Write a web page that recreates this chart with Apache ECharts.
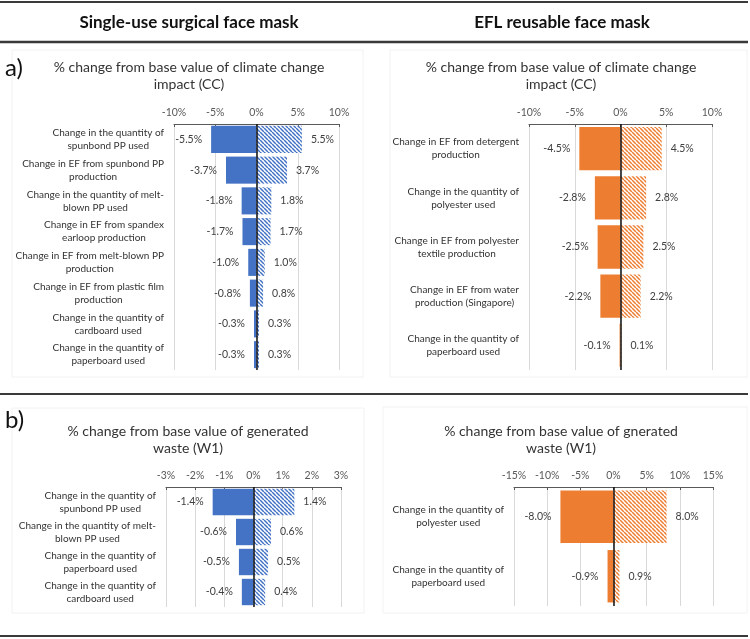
<!DOCTYPE html>
<html><head><meta charset="utf-8">
<script src="https://cdn.jsdelivr.net/npm/echarts@6/dist/echarts.min.js"></script>
<style>html,body{margin:0;padding:0;background:#fff}#c{width:750px;height:639px}</style>
</head><body><div id="c"></div><script>
// ---------- data ----------
const ccSingleCats = [
  "Change in the quantity of\nspunbond PP used",
  "Change in EF from spunbond PP\nproduction",
  "Change in the quantity of melt-\nblown PP used",
  "Change in EF from spandex\nearloop production",
  "Change in EF from melt-blown PP\nproduction",
  "Change in EF from plastic film\nproduction",
  "Change in the quantity of\ncardboard used",
  "Change in the quantity of\npaperboard used"
];
const ccSingleLow  = [-5.5, -3.7, -1.8, -1.7, -1.0, -0.8, -0.3, -0.3];
const ccSingleHigh = [5.5, 3.7, 1.8, 1.7, 1.0, 0.8, 0.3, 0.3];

const ccReuseCats = [
  "Change in EF from detergent\nproduction",
  "Change in the quantity of\npolyester used",
  "Change in EF from polyester\ntextile production",
  "Change in EF from water\nproduction (Singapore)",
  "Change in the quantity of\npaperboard used"
];
const ccReuseLow  = [-4.5, -2.8, -2.5, -2.2, -0.1];
const ccReuseHigh = [4.5, 2.8, 2.5, 2.2, 0.1];

const wSingleCats = [
  "Change in the quantity of\nspunbond PP used",
  "Change in the quantity of melt-\nblown PP used",
  "Change in the quantity of\npaperboard used",
  "Change in the quantity of\ncardboard used"
];
const wSingleLow  = [-1.4, -0.6, -0.5, -0.4];
const wSingleHigh = [1.4, 0.6, 0.5, 0.4];

const wReuseCats = [
  "Change in the quantity of\npolyester used",
  "Change in the quantity of\npaperboard used"
];
const wReuseLow  = [-8.0, -0.9];
const wReuseHigh = [8.0, 0.9];

// axis ranges [min, max, interval]
const axisCCSingle = [-10, 10, 5];
const axisCCReuse  = [-10, 10, 5];
const axisWSingle  = [-3, 3, 1];
const axisWReuse   = [-15, 15, 5];

const panelHeaders = ["Single-use surgical face mask", "EFL reusable face mask"];
const panelTags = ["a)", "b)"];
const chartTitles = [
  "% change from base value of climate change\nimpact (CC)",
  "% change from base value of climate change\nimpact (CC)",
  "% change from base value of generated\nwaste (W1)",
  "% change from base value of gnerated\nwaste (W1)"
];

// ---------- styling ----------
const FF = "Lato, 'Open Sans', sans-serif";
const BLUE = "#4472C4", ORANGE = "#ED7D31";
function hatch(color){
  const s = 4;
  const c = document.createElement('canvas'); c.width = s; c.height = s;
  const g = c.getContext('2d');
  g.fillStyle = '#fff'; g.fillRect(0,0,s,s);
  g.strokeStyle = color; g.lineWidth = 1.5;
  for (let k=-1;k<=1;k++){ g.beginPath(); g.moveTo(k*s,0); g.lineTo(k*s+s,s); g.stroke(); }
  return {image:c, repeat:'repeat'};
}

const grids = [
  {left:174, top:124, width:165, height:246},
  {left:529, top:124, width:183, height:246},
  {left:166, top:487, width:175, height:120},
  {left:514, top:487, width:199, height:119}
];
const panels = [
  {cats:ccSingleCats, low:ccSingleLow, high:ccSingleHigh, ax:axisCCSingle, color:BLUE},
  {cats:ccReuseCats, low:ccReuseLow, high:ccReuseHigh, ax:axisCCReuse, color:ORANGE},
  {cats:wSingleCats, low:wSingleLow, high:wSingleHigh, ax:axisWSingle, color:BLUE},
  {cats:wReuseCats, low:wReuseLow, high:wReuseHigh, ax:axisWReuse, color:ORANGE}
];

const xAxis = [], yAxis = [], series = [];
panels.forEach((p, i) => {
  xAxis.push({
    gridIndex:i, type:'value', position:'top', min:p.ax[0], max:p.ax[1], interval:p.ax[2],
    axisLine:{show:true, lineStyle:{color:'#595959', width:1}},
    axisTick:{show:true, inside:true, length:3, lineStyle:{color:'#595959'}},
    axisLabel:{formatter:v => v + '%', fontSize:10.5, color:'#595959', margin:6, fontFamily:FF},
    splitLine:{show:true, lineStyle:{color:'#d9d9d9', width:1}}
  });
  yAxis.push({
    gridIndex:i, type:'category', data:p.cats, inverse:true,
    axisLine:{show:false, onZero:false}, axisTick:{show:false},
    axisLabel:{
      margin:10, fontSize:10, color:'#333', fontFamily:FF, lineHeight:13,
      formatter:v => v.split('\n').map(s => '{c|' + s + '}').join('\n'),
      rich:{c:{align:'center', fontSize:10, color:'#333', fontFamily:FF, lineHeight:13}}
    }
  });
  const lab = (pos) => ({show:true, position:pos, distance:9, fontSize:10.5, color:'#404040', fontFamily:FF,
    formatter:q => q.value.toFixed(1) + '%'});
  series.push({
    type:'bar', xAxisIndex:i, yAxisIndex:i, data:p.low, barWidth:'88%', barGap:'-100%',
    itemStyle:{color:p.color}, label:lab('left'), silent:true,
    markLine:{silent:true, symbol:'none', animation:false, data:[{xAxis:0}],
      lineStyle:{color:'#111', width:1.5, type:'solid'}, label:{show:false}}
  });
  series.push({
    type:'bar', xAxisIndex:i, yAxisIndex:i, data:p.high, barWidth:'88%', barGap:'-100%',
    itemStyle:{color:hatch(p.color)}, label:lab('right'), silent:true
  });
});

const LINE = '#3a3a3a';
const graphic = [
  // faint chart-area boxes
  {type:'rect', shape:{x:12, y:50, width:351, height:327}, style:{fill:'none', stroke:'#f2f2f2', lineWidth:1}, z:-1},
  {type:'rect', shape:{x:390, y:50, width:357, height:327}, style:{fill:'none', stroke:'#f2f2f2', lineWidth:1}, z:-1},
  {type:'rect', shape:{x:12, y:408, width:352, height:205}, style:{fill:'none', stroke:'#f2f2f2', lineWidth:1}, z:-1},
  {type:'rect', shape:{x:383, y:407, width:364, height:206}, style:{fill:'none', stroke:'#f2f2f2', lineWidth:1}, z:-1},
  // separator lines
  {type:'line', shape:{x1:0, y1:2, x2:748, y2:2}, style:{stroke:LINE, lineWidth:2}},
  {type:'line', shape:{x1:0, y1:42, x2:748, y2:42}, style:{stroke:LINE, lineWidth:2.5}},
  {type:'line', shape:{x1:0, y1:394, x2:748, y2:394}, style:{stroke:LINE, lineWidth:2}},
  {type:'line', shape:{x1:0, y1:636, x2:748, y2:636}, style:{stroke:LINE, lineWidth:2}},
  // headers
  {type:'text', x:189, y:23, style:{text:panelHeaders[0], font:"bold 17px " + FF, fill:'#111', textAlign:'center', textVerticalAlign:'middle'}},
  {type:'text', x:562, y:23, style:{text:panelHeaders[1], font:"bold 17px " + FF, fill:'#111', textAlign:'center', textVerticalAlign:'middle'}},
  // tags
  {type:'text', x:5, y:68, style:{text:panelTags[0], font:"24px " + FF, fill:'#111', textVerticalAlign:'middle'}},
  {type:'text', x:5, y:420, style:{text:panelTags[1], font:"24px " + FF, fill:'#111', textVerticalAlign:'middle'}},
  // chart titles
  {type:'text', x:189, y:76, style:{text:chartTitles[0], font:"14px " + FF, lineHeight:17, fill:'#333', textAlign:'center', textVerticalAlign:'middle'}},
  {type:'text', x:561, y:76, style:{text:chartTitles[1], font:"14px " + FF, lineHeight:17, fill:'#333', textAlign:'center', textVerticalAlign:'middle'}},
  {type:'text', x:188, y:440, style:{text:chartTitles[2], font:"14px " + FF, lineHeight:17, fill:'#333', textAlign:'center', textVerticalAlign:'middle'}},
  {type:'text', x:561, y:440, style:{text:chartTitles[3], font:"14px " + FF, lineHeight:17, fill:'#333', textAlign:'center', textVerticalAlign:'middle'}}
];

const chart = echarts.init(document.getElementById('c'), null, {renderer:'canvas'});
chart.setOption({
  animation:false,
  backgroundColor:'#fff',
  textStyle:{fontFamily:FF},
  grid:grids.map(g => Object.assign({containLabel:false}, g)),
  xAxis, yAxis, series, graphic
});
</script></body></html>
